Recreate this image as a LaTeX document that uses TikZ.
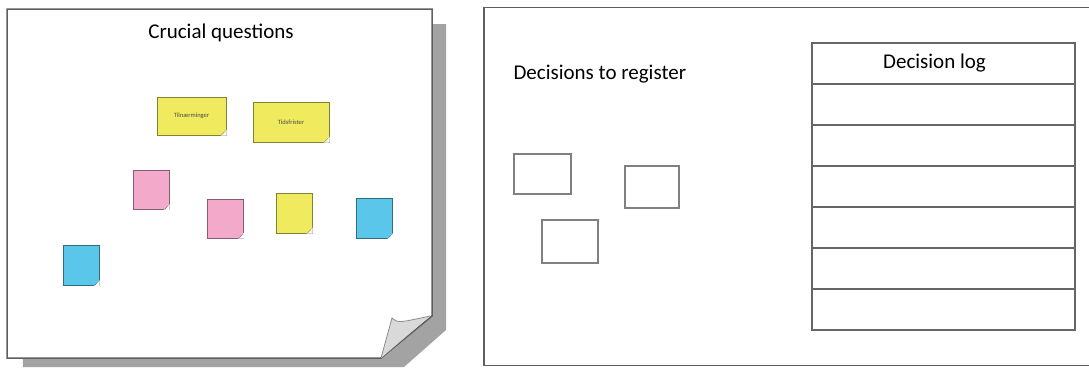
\documentclass[tikz,border=0pt]{standalone}
\usepackage{fontspec}
\setmainfont{Carlito}
\usepackage{tikz}
\usetikzlibrary{positioning}

\definecolor{noteyellow}{HTML}{EFEA5E}
\definecolor{notepink}{HTML}{F3A9C9}
\definecolor{noteblue}{HTML}{5AC6EA}
\definecolor{sheetshadow}{HTML}{A3A3A3}
\definecolor{framegray}{HTML}{5E5E5E}

% little folded corner on a sticky note
\newcommand{\notecurl}[2]{%
  \fill[white] ([xshift=-6pt]#1.south east) -- (#1.south east) -- ([yshift=6pt]#1.south east) -- cycle;
  \fill[#2!45!black] ([xshift=-6pt]#1.south east) -- ([yshift=6pt]#1.south east)
    .. controls ([xshift=-4pt,yshift=1pt]#1.south east) .. cycle;
}

\begin{document}
\begin{tikzpicture}[
    x=1pt, y=-1pt,
    every node/.style={font=\fontsize{21}{24}\selectfont},
    yellownote/.style={
      rectangle, draw=noteyellow!55!black, fill=noteyellow,
      line width=1pt, inner sep=0pt,
    },
    pinknote/.style={
      rectangle, draw=notepink!55!black, fill=notepink,
      line width=1pt, inner sep=0pt,
      minimum width=36pt, minimum height=39pt,
    },
    bluenote/.style={
      rectangle, draw=noteblue!55!black, fill=noteblue,
      line width=1pt, inner sep=0pt,
      minimum width=36pt, minimum height=40pt,
    },
    notetext/.style={font=\fontsize{6.5}{7}\selectfont, text=black!70},
    decbox/.style={
      rectangle, draw=black!50, line width=2pt, inner sep=0pt,
    },
    logrow/.style={
      rectangle, draw=black!60, line width=1.8pt, inner sep=0pt, outer sep=0pt,
      minimum width=263pt, minimum height=41pt,
    },
  ]
  \useasboundingbox (0,0) rectangle (1089,367);

  % Left: flip-chart sheet with shadow and curled corner
  \fill[sheetshadow] (23,367) -- (404,367) -- (446,330) -- (446,24)
    -- (20,24) -- cycle;
  \draw[framegray, line width=1.5pt, fill=white]
    (7,9) -- (432,9) -- (432,316) -- (381,358) -- (7,358) -- cycle;
  \fill[black!15] (392,318) .. controls (398,323) .. (430,316) -- (381,358) -- cycle;
  \draw[black!45, line width=0.8pt] (381,358) -- (392,318)
    .. controls (398,323) .. (430,316);
  \node (crucial) at (221,33) {Crucial questions};

  % Sticky notes
  \node[yellownote, minimum width=69pt, minimum height=38pt] (ynote1) at (191.5,116)
    {\tikz[baseline]\node[notetext,inner sep=0pt]{Tilnærminger};};
  \node[yellownote, minimum width=76pt, minimum height=40pt] (ynote2) at (291,122)
    {\tikz[baseline]\node[notetext,inner sep=0pt]{Tidsfrister};};
  \node[pinknote] (pnote1) at (151,190) {};
  \node[pinknote] (pnote2) at (225.5,218.5) {};
  \node[yellownote, minimum width=36pt, minimum height=40pt] (ynote3) at (294,213) {};
  \node[bluenote] (bnote1) at (374.5,218.5) {};
  \node[bluenote] (bnote2) at (81,265.5) {};
  \notecurl{ynote1}{noteyellow}
  \notecurl{ynote2}{noteyellow}
  \notecurl{ynote3}{noteyellow}
  \notecurl{pnote1}{notepink}
  \notecurl{pnote2}{notepink}
  \notecurl{bnote1}{noteblue}
  \notecurl{bnote2}{noteblue}

  % Right: board with decisions and log
  \draw[framegray, line width=1.5pt] (1089,7.5) -- (484,7.5) -- (484,365.5) -- (1089,365.5);
  \node[anchor=west] (toreg) at (510,74) {Decisions to register};

  \node[decbox, minimum width=57pt, minimum height=40pt] (dec1) at (542.5,174) {};
  \node[decbox, minimum width=54pt, minimum height=42pt] (dec2) at (652,187) {};
  \node[decbox, minimum width=56pt, minimum height=43pt] (dec3) at (570,241.5) {};

  % Decision log table
  \node[logrow] (row1) at (943.5,63.5) {\hspace*{-18pt}Decision log};
  \node[logrow, below=0pt of row1] (row2) {};
  \node[logrow, below=0pt of row2] (row3) {};
  \node[logrow, below=0pt of row3] (row4) {};
  \node[logrow, below=0pt of row4] (row5) {};
  \node[logrow, below=0pt of row5] (row6) {};
  \node[logrow, below=0pt of row6] (row7) {};

\end{tikzpicture}
\end{document}
